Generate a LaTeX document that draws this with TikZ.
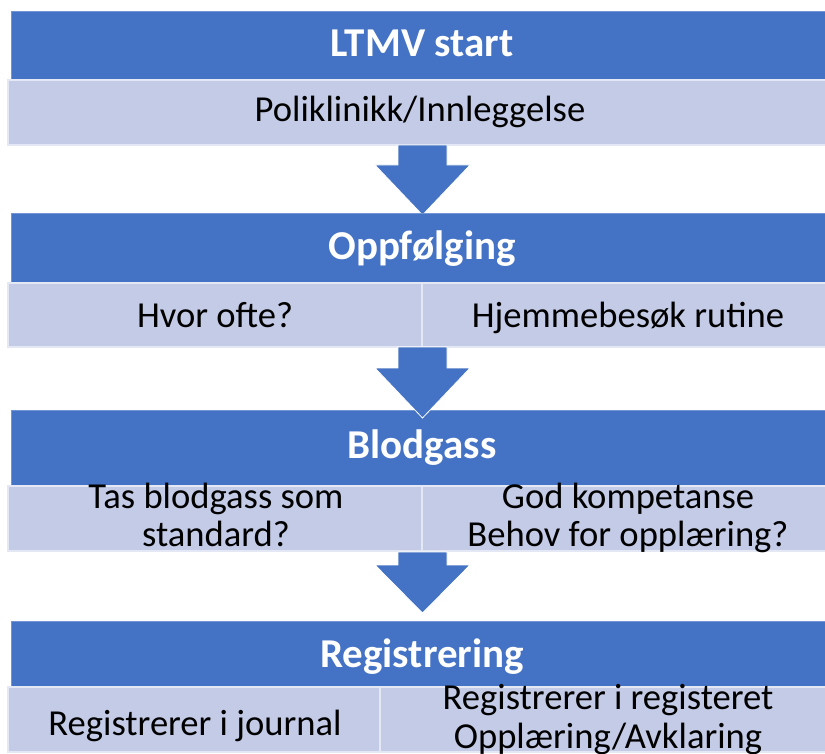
\documentclass[tikz,border=0pt]{standalone}
\usepackage{fontspec}
\setmainfont{Carlito}
\definecolor{stepblue}{HTML}{4472C4}
\definecolor{celllight}{HTML}{C3CBE6}
\tikzset{
  x=1pt, y=-1pt,
  headbox/.style={fill=stepblue, draw=white!25!stepblue, line width=0.8pt},
  cellbox/.style={fill=celllight, draw=white!55!celllight, line width=2.5pt},
  downarrow/.style={fill=stepblue, draw=white, line width=0.8pt},
  headtext/.style={text=white, font=\fontsize{41}{42}\selectfont\bfseries, anchor=base, inner sep=0pt},
  celltext/.style={text=black, font=\fontsize{36.6}{37.5}\selectfont, anchor=base, inner sep=0pt, align=center}
}
% block arrow pointing down: shaft top y, head start y, tip y
\newcommand{\blockarrow}[4]{%
  \draw[downarrow] (398,#2) -- (447,#2) -- (447,#3) -- (470,#3) -- (422.5,#4)
    coordinate (#1) -- (375,#3) -- (398,#3) -- cycle;}
\begin{document}
\begin{tikzpicture}
\useasboundingbox (0,0) rectangle (825,754);
\clip (0,0) rectangle (825,754);

% step 1
\draw[headbox] (11,11) rectangle (833,80);
\draw[cellbox] (8,80) rectangle (836,145);
\node[headtext] (t1) at (422,57) {LTMV start};
\node[celltext] (c1) at (420,122) {Poliklinikk/Innleggelse};
\blockarrow{a1}{145}{165}{215}

% step 2
\draw[headbox] (11,213) rectangle (833,283);
\draw[cellbox] (8,283) rectangle (422,347);
\draw[cellbox] (422,283) rectangle (836,347);
\node[headtext] (t2) at (422,260) {Oppfølging};
\node[celltext] (c2a) at (215,327) {Hvor ofte?};
\node[celltext] (c2b) at (628,327) {Hjemmebesøk rutine};

% step 3
\draw[headbox] (11,410) rectangle (833,486);
\draw[cellbox] (8,486) rectangle (422,551);
\draw[cellbox] (422,486) rectangle (836,551);
\blockarrow{a2}{347}{368}{418}
\blockarrow{a3}{552}{565}{613}
\node[headtext] (t3) at (422,458) {Blodgass};
\node[celltext, anchor=north] (c3a) at (216,483) {Tas blodgass som\\standard?};
\node[celltext, anchor=north] (c3b) at (628,483) {God kompetanse\\Behov for opplæring?};

% step 4
\draw[headbox] (11,621) rectangle (833,687);
\draw[cellbox] (8,687) rectangle (380,752);
\draw[cellbox] (380,687) rectangle (836,752);
\node[headtext] (t4) at (422,667) {Registrering};
\node[celltext] (c4a) at (195,735) {Registrerer i journal};
\node[celltext, anchor=north, font=\fontsize{36.6}{39}\selectfont] (c4b) at (608,684) {Registrerer i registeret\\Opplæring/Avklaring};
\end{tikzpicture}
\end{document}
